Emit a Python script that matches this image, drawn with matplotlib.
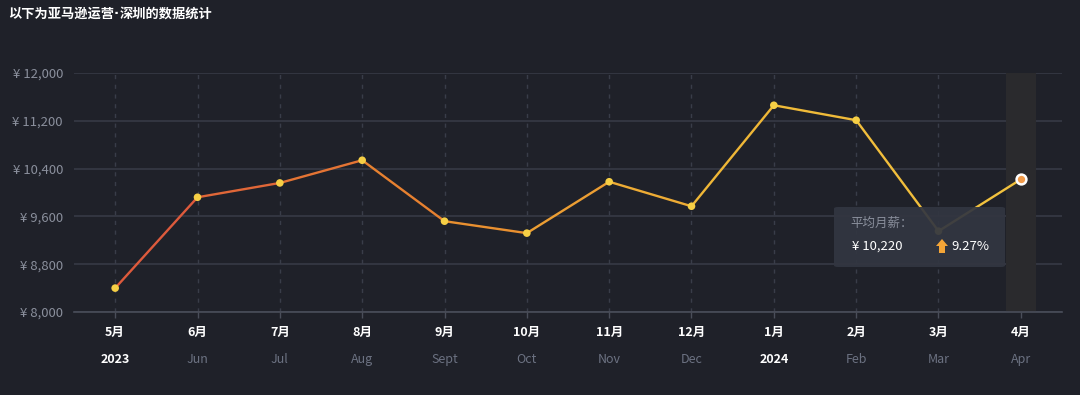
import matplotlib
matplotlib.use("Agg")
import matplotlib.pyplot as plt
import matplotlib.patches as mpatches
from matplotlib.collections import LineCollection
from matplotlib.colors import LinearSegmentedColormap
import numpy as np

plt.rcParams['font.family'] = ['Noto Sans CJK SC', 'DejaVu Sans']

# data
months_cn = ["5月", "6月", "7月", "8月", "9月", "10月", "11月", "12月", "1月", "2月", "3月", "4月"]
sub_labels = ["2023", "Jun", "Jul", "Aug", "Sept", "Oct", "Nov", "Dec", "2024", "Feb", "Mar", "Apr"]
salary = [8400, 9920, 10160, 10540, 9520, 9320, 10180, 9770, 11460, 11210, 9353, 10220]
yticks = [8000, 8800, 9600, 10400, 11200, 12000]
hover_idx = 11
title_parts = ["以下为亚马逊运营", "·", "深圳的数据统计"]
tooltip_title = "平均月薪："
tooltip_value = "¥ 10,220"
tooltip_change = "9.27%"

BG = "#1f2129"
GRID = "#363a45"
TICK = "#8a8f9c"

fig = plt.figure(figsize=(10.8, 3.95), dpi=100, facecolor=BG)
W, H = 1080, 395
ax = fig.add_axes([74 / W, 1 - 312 / H, (1062 - 74) / W, (312 - 73) / H])
ax.set_facecolor(BG)

x = np.arange(len(salary))
ax.set_xlim(-0.5, len(salary) - 0.5)
ax.set_ylim(8000, 12000)

# grid
for v in yticks:
    ax.axhline(v, color=GRID, lw=1.2, zorder=1)
for xi in x:
    ax.axvline(xi, color="#393d49", lw=1, ls=(0, (3, 4)), zorder=1)

# hover band
ax.axvspan(hover_idx - 0.18, hover_idx + 0.18, color="#2a2a2d", zorder=2, lw=0)

# gradient line
cmap = LinearSegmentedColormap.from_list("g", ["#dd5a3c", "#e8862f", "#efb636", "#f2c23e"])
pts = np.column_stack([x, salary])
segs = np.stack([pts[:-1], pts[1:]], axis=1)
cols = [cmap(i / (len(segs) - 1)) for i in range(len(segs))]
lc = LineCollection(segs, colors=cols, linewidths=1.7, zorder=3, capstyle="round")
ax.add_collection(lc)

others = [i for i in x if i != hover_idx]
ax.scatter([x[i] for i in others], [salary[i] for i in others], s=30, color="#f6cf45",
           zorder=4, edgecolors="none")
ax.scatter([x[hover_idx]], [salary[hover_idx]], s=50, color="#f29b4a",
           edgecolors="white", linewidths=1.8, zorder=5)

# axes
for s in ["top", "right", "left"]:
    ax.spines[s].set_visible(False)
ax.spines["bottom"].set_color("#4a4e5a")
ax.spines["bottom"].set_linewidth(1.2)
ax.set_yticks(yticks)
ax.set_yticklabels([f"¥ {v:,}" for v in yticks], color=TICK, fontsize=9.5)
ax.tick_params(axis="y", length=0, pad=8)
ax.set_xticks(x)
ax.set_xticklabels([])
ax.tick_params(axis="x", length=4, color="#4a4e5a", width=1)

tr = ax.get_xaxis_transform()
for i, (m, s) in enumerate(zip(months_cn, sub_labels)):
    ax.text(i, -0.085, m, transform=tr, ha="center", va="center", color="white",
            fontsize=9, fontweight="bold")
    is_year = s.isdigit()
    ax.text(i, -0.2, s, transform=tr, ha="center", va="center",
            color="white" if is_year else "#6c7282", fontsize=9,
            fontweight="bold" if is_year else "normal")

# title, the middle dot drawn in DejaVu so it stays narrow
renderer = fig.canvas.get_renderer()
tx = 8
for k, part in enumerate(title_parts):
    fam = ["DejaVu Sans"] if part == "·" else ["Noto Sans CJK SC", "DejaVu Sans"]
    t = fig.text(tx / W, 1 - 14 / H, part, color="white", fontsize=9.5,
                 fontweight="bold", ha="left", va="center", family=fam)
    tx += t.get_window_extent(renderer).width

# tooltip
box = mpatches.FancyBboxPatch((834 / W, 1 - 267 / H), (1005 - 834) / W, (267 - 207) / H,
                              boxstyle="round,pad=0,rounding_size=0.004",
                              transform=fig.transFigure, facecolor="#323641",
                              edgecolor="none", alpha=0.93, zorder=10)
fig.patches.append(box)
fig.text(850 / W, 1 - 223 / H, tooltip_title, color="#8a8f9c", fontsize=9,
         ha="left", va="center", zorder=11)
fig.text(852 / W, 1 - 246 / H, tooltip_value, color="white", fontsize=9.5,
         ha="left", va="center", zorder=11)
fig.text(951 / W, 1 - 246 / H, tooltip_change, color="white", fontsize=9.5,
         ha="left", va="center", zorder=11)
arrow_px = [(942, 239), (948, 246), (945, 246), (945, 253), (939, 253), (939, 246), (936, 246)]
arrow = mpatches.Polygon([(px / W, 1 - py / H) for px, py in arrow_px], closed=True,
                         transform=fig.transFigure, facecolor="#f4a537", edgecolor="none",
                         zorder=11)
fig.patches.append(arrow)

fig.savefig("out.png", dpi=100, facecolor=BG)
